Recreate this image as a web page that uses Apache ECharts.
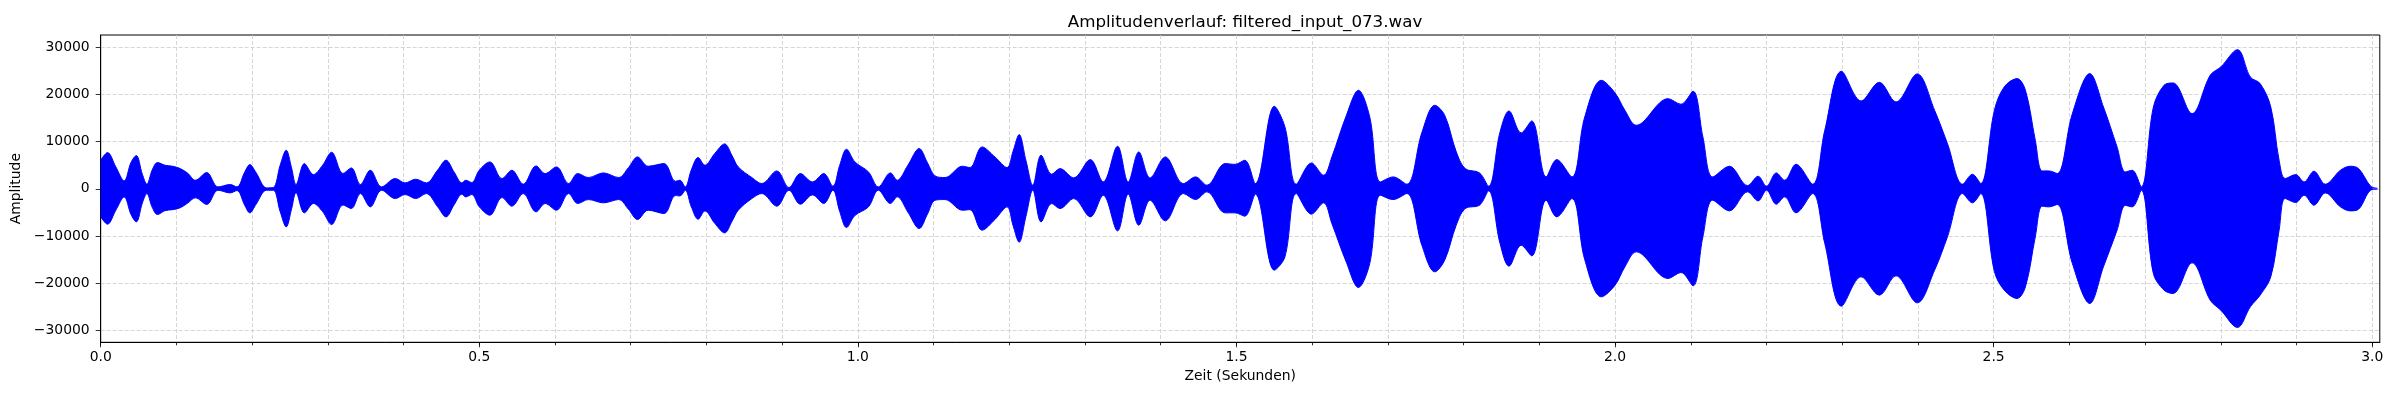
<!DOCTYPE html>
<html>
<head>
<meta charset="utf-8">
<script src="https://cdn.jsdelivr.net/npm/echarts@6/dist/echarts.min.js"></script>
<style>
html,body{margin:0;padding:0;background:#fff;}
#chart{width:2400px;height:400px;}
</style>
</head>
<body>
<div id="chart"></div>
<script>
// Envelope of the waveform (time in s, amplitude)
const times = [
0.000,0.009,0.020,0.031,0.040,0.047,0.055,0.061,0.068,0.075,0.085,0.095,0.105,0.115,0.125,0.140,0.155,0.171,0.180,0.190,
0.197,0.205,0.219,0.228,0.237,0.245,0.252,0.258,0.269,0.281,0.293,0.305,0.320,0.331,0.343,0.356,0.371,0.389,0.402,0.416,
0.430,0.445,0.456,0.467,0.477,0.482,0.490,0.500,0.514,0.530,0.543,0.558,0.575,0.587,0.602,0.618,0.630,0.644,0.664,0.684,
0.697,0.709,0.723,0.744,0.759,0.765,0.772,0.780,0.789,0.798,0.811,0.824,0.834,0.842,0.860,0.873,0.893,0.909,0.924,0.940,
0.955,0.967,0.976,0.985,0.996,1.014,1.027,1.043,1.052,1.066,1.081,1.092,1.102,1.115,1.138,1.148,1.164,1.181,1.197,1.205,
1.213,1.222,1.231,1.242,1.256,1.267,1.285,1.307,1.324,1.343,1.357,1.371,1.386,1.406,1.430,1.446,1.461,1.485,1.498,1.511,
1.525,1.550,1.564,1.579,1.599,1.615,1.626,1.645,1.661,1.676,1.690,1.707,1.725,1.745,1.762,1.775,1.790,1.802,1.821,1.833,
1.848,1.860,1.876,1.890,1.909,1.923,1.943,1.960,1.982,2.000,2.013,2.028,2.070,2.087,2.103,2.116,2.129,2.151,2.175,2.189,
2.200,2.213,2.224,2.239,2.261,2.277,2.299,2.325,2.349,2.371,2.399,2.422,2.439,2.459,2.472,2.483,2.501,2.514,2.531,2.542,
2.555,2.564,2.573,2.584,2.604,2.627,2.645,2.663,2.674,2.683,2.695,2.711,2.725,2.737,2.762,2.786,2.800,2.822,2.839,2.852,
2.866,2.877,2.885,2.899,2.910,2.923,2.938,2.958,2.971,2.982,2.998,3.007
];
const upper = [
6070,7700,4660,1700,5600,7060,3100,1000,4000,5575,5000,4800,4300,3300,1830,3460,420,920,420,3500,
5150,3500,210,300,5000,8190,4500,900,5360,3030,5000,7760,3250,4450,920,3950,420,2190,1270,2050,
1270,4000,6070,3500,1270,1830,1340,3950,5720,2190,3950,990,4870,3250,4660,1130,3250,2400,3390,2400,
4500,6770,4800,5360,1620,1830,420,4000,6630,5010,7500,9530,7000,4660,2400,1130,3810,280,3250,1480,
3250,560,5000,8400,5720,3600,420,3390,1830,5000,8540,5500,2750,2400,4800,4520,8890,6770,4520,8000,
11500,6000,780,7130,3100,4300,2330,6210,1480,9030,1480,7830,2330,6770,1130,2540,780,5360,5200,6070,
1130,17500,13130,990,5500,2890,6770,15500,20890,15240,1480,2540,990,12000,17710,15600,8000,4300,3390,560,
12000,16510,11860,14400,2540,6210,2540,15240,23000,20330,16650,13480,19120,17930,20680,11010,2540,4800,700,2680,
560,3390,1830,5220,990,12420,24910,18630,22580,18420,24350,16650,9600,990,3100,1130,16650,21600,23360,20890,
10300,3810,3810,3250,15950,24420,17360,8890,3600,3950,420,17360,21950,22440,15950,24070,25830,29500,23710,22300,
17360,6070,2190,3030,1480,3740,990,3950,4800,4300,560,140
];
const lower = [
-5930,-7480,-4500,-1700,-5400,-6990,-3000,-1000,-3900,-5430,-4600,-4400,-4000,-3000,-1900,-3300,-280,-850,-350,-3400,
-5080,-3300,-280,-280,-4800,-8050,-4300,-800,-5080,-3100,-4800,-7550,-3400,-4160,-990,-3810,-280,-2050,-1200,-2050,
-990,-3800,-5930,-3300,-1130,-1700,-1200,-3800,-5575,-1830,-3670,-990,-4870,-3100,-4520,-990,-3100,-2260,-2960,-2260,
-4300,-6490,-4520,-5220,-1410,-1500,-280,-3800,-6420,-4660,-7300,-9320,-6800,-4520,-2050,-990,-3670,-280,-3250,-1270,
-3100,-280,-4800,-8190,-5650,-3810,-280,-3100,-1690,-4900,-8400,-5300,-2400,-2260,-4520,-4400,-8750,-6490,-3810,-7800,
-11290,-5800,-280,-6990,-3100,-4160,-2050,-5930,-1340,-8890,-1130,-7690,-2400,-6770,-990,-2260,-630,-5080,-5080,-5790,
-1130,-17220,-14400,-990,-5360,-2960,-7340,-15500,-20890,-15810,-1340,-2260,-990,-12000,-17570,-15100,-7800,-4160,-3460,-420,
-11500,-16370,-11930,-14190,-2400,-5930,-2050,-15000,-22870,-20400,-16510,-13340,-18980,-17710,-20540,-10160,-2400,-4660,-630,-2540,
-280,-3250,-1690,-5080,-990,-11570,-24840,-18630,-22510,-18420,-24140,-17220,-10160,-990,-2960,-990,-17500,-21450,-23220,-20750,
-10160,-3670,-3810,-3300,-15810,-24280,-16510,-8750,-3500,-3810,-280,-17930,-21450,-22160,-15670,-23570,-25690,-29360,-24980,-22510,
-18630,-8750,-2050,-2890,-1340,-3460,-850,-3810,-4660,-4300,-280,-70
];
// Tick values
const xMajorTicks = [0.0,0.5,1.0,1.5,2.0,2.5,3.0];
const xAllTicks = [0.0,0.1,0.2,0.3,0.4,0.5,0.6,0.7,0.8,0.9,1.0,1.1,1.2,1.3,1.4,1.5,1.6,1.7,1.8,1.9,2.0,2.1,2.2,2.3,2.4,2.5,2.6,2.7,2.8,2.9,3.0];
const yTicks = [-30000,-20000,-10000,0,10000,20000,30000];

const FONT = 'DejaVu Sans';
const upperData = times.map((t,i)=>[t, upper[i]]);
const lowerData = times.map((t,i)=>[t, lower[i]]);

const chart = echarts.init(document.getElementById('chart'), null, {renderer:'canvas', width:2400, height:400, devicePixelRatio:1});
const gridLine = {show:true, lineStyle:{color:'#cccccc', width:0.8, type:[4,2]}};
const baseX = {type:'value', min:0, max:3.01, gridIndex:0, position:'bottom'};
chart.setOption({
  animation:false,
  backgroundColor:'#ffffff',
  title:{
    text:'Amplitudenverlauf: filtered_input_073.wav',
    left:1240, top:9, textAlign:'center',
    textStyle:{fontFamily:FONT, fontSize:16.7, fontWeight:'normal', color:'#000'}
  },
  grid:{left:100.7, right:20.2, top:35, bottom:57.7, show:true, borderColor:'#000', borderWidth:1, backgroundColor:'transparent', containLabel:false, outerBoundsMode:'none'},
  xAxis:[
    Object.assign({}, baseX, {
      name:'Zeit (Sekunden)', nameLocation:'middle', nameGap:26,
      nameTextStyle:{fontFamily:FONT, fontSize:13.9, color:'#000'},
      axisLine:{show:true, onZero:false, lineStyle:{color:'#000', width:1}},
      axisTick:{show:true, length:3, lineStyle:{color:'#000', width:0.8}, customValues:xAllTicks},
      axisLabel:{show:true, customValues:xMajorTicks, margin:8, fontFamily:FONT, fontSize:13.9, color:'#000',
        formatter:v=>Number(v).toFixed(1)},
      splitLine:gridLine
    }),
    Object.assign({}, baseX, {
      axisLine:{show:false, onZero:false},
      axisTick:{show:true, length:5, lineStyle:{color:'#000', width:0.8}, customValues:xMajorTicks},
      axisLabel:{show:false},
      splitLine:{show:false}
    })
  ],
  yAxis:{
    type:'value', min:-32500, max:32600,
    name:'Amplitude', nameLocation:'middle', nameGap:72, nameRotate:90,
    nameTextStyle:{fontFamily:FONT, fontSize:13.9, color:'#000'},
    axisLine:{show:true, onZero:false, lineStyle:{color:'#000', width:1}},
    axisTick:{show:true, length:5, lineStyle:{color:'#000', width:0.8}, customValues:yTicks},
    axisLabel:{show:true, customValues:yTicks, margin:11, fontFamily:FONT, fontSize:13.9, color:'#000',
      formatter:v=> v<0 ? '\u2212'+Math.abs(v) : String(v)},
    splitLine:gridLine
  },
  series:[
    {type:'line', xAxisIndex:0, data:upperData, smooth:0.35, showSymbol:false, symbol:'none',
      lineStyle:{color:'#0000ff', width:1}, areaStyle:{color:'#0000ff', opacity:1, origin:'auto'}, z:3},
    {type:'line', xAxisIndex:0, data:lowerData, smooth:0.35, showSymbol:false, symbol:'none',
      lineStyle:{color:'#0000ff', width:1}, areaStyle:{color:'#0000ff', opacity:1, origin:'auto'}, z:3}
  ]
});
</script>
</body>
</html>
